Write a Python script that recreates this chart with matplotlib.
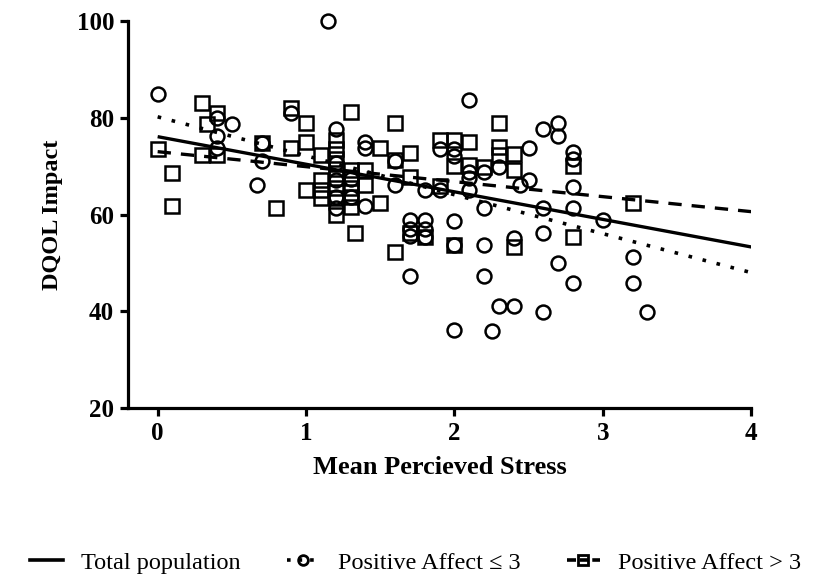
import numpy as np
import matplotlib.pyplot as plt
from matplotlib.lines import Line2D

plt.rcParams['font.family'] = ['Liberation Serif', 'DejaVu Serif']

# Positive Affect <= 3 (open circles)
low_x = [0, 1.15, 0.4, 0.4, 0.4, 0.5, 0.7, 0.7, 0.67, 0.9, 1.2, 1.2, 1.2, 1.2, 1.2,
         1.3, 1.3, 1.4, 1.4, 1.4, 1.6, 1.6, 1.8, 1.9, 1.9, 1.7, 1.7, 1.7, 1.8, 1.8,
         1.8, 1.7, 2.0, 2.0, 2.0, 2.0, 2.0, 2.1, 2.1, 2.1, 2.1, 2.2, 2.2, 2.2, 2.2,
         2.25, 2.3, 2.3, 2.4, 2.4, 2.44, 2.5, 2.5, 2.6, 2.6, 2.6, 2.6, 2.7, 2.7, 2.7,
         2.8, 2.8, 2.8, 2.8, 2.8, 3.0, 3.2, 3.2, 3.3]
low_y = [85, 100, 80, 76.2, 73.8, 78.7, 74.8, 71, 66.1, 81, 77.7, 70.7, 67.1, 63.6, 61.4,
         67.4, 63.6, 75, 73.8, 61.8, 71, 66.1, 65.1, 65.1, 73.5, 58.9, 57, 55.5, 58.9, 57,
         55.3, 47.3, 73.5, 72, 58.7, 53.7, 36.2, 83.7, 68.8, 67.6, 65.1, 68.8, 61.4, 53.7, 47.3,
         36, 69.8, 41.1, 55.2, 41.1, 66.1, 67.2, 73.8, 77.7, 61.4, 56.2, 39.9, 78.9, 76.2, 50,
         72.9, 71.5, 65.7, 61.4, 45.9, 58.9, 51.2, 45.9, 39.9]

# Positive Affect > 3 (open squares)
high_x = [0, 0.1, 0.1, 0.3, 0.33, 0.3, 0.4, 0.4, 0.7, 0.8, 0.9, 0.9, 1.0, 1.0, 1.0,
          1.1, 1.1, 1.1, 1.1, 1.2, 1.2, 1.2, 1.2, 1.2, 1.2, 1.2, 1.2, 1.3, 1.3, 1.3,
          1.3, 1.3, 1.3, 1.33, 1.4, 1.4, 1.5, 1.5, 1.6, 1.6, 1.6, 1.7, 1.7, 1.7, 1.8,
          1.9, 1.9, 2.0, 2.0, 2.0, 2.1, 2.1, 2.2, 2.3, 2.3, 2.3, 2.4, 2.4, 2.4, 2.8,
          2.8, 3.2]
high_y = [73.6, 68.6, 61.8, 83, 78.7, 72.3, 81, 72.3, 74.8, 61.4, 82, 73.8, 79, 75, 65,
          72.3, 67.1, 65, 63.4, 75.4, 73.5, 71.5, 69.5, 67.5, 65.5, 63.5, 60, 81.2, 69.2, 67.5,
          65.5, 63.6, 61.6, 56.2, 69.2, 66.1, 73.8, 62.4, 79, 71.3, 52.3, 72.7, 67.8, 56.2, 55.4,
          75.4, 66, 75.4, 70, 53.7, 75, 70.2, 69.8, 78.9, 74, 72.3, 72.5, 69.2, 53.3, 70,
          55.4, 62.4]

# regression lines: (intercept, slope)
fit_total = (76.1, -5.7)
fit_low = (80.2, -8.05)
fit_high = (73.0, -3.1)

fig = plt.figure(figsize=(8.31, 5.78), dpi=100)
ax = fig.add_axes([0.154, 0.294, 0.75, 0.6696])

mk = dict(linestyle='none', markerfacecolor='none', markeredgecolor='black',
          markeredgewidth=1.8, clip_on=False)
ax.plot(low_x, low_y, marker='o', markersize=10, **mk)
ax.plot(high_x, high_y, marker='s', markersize=9.5, **mk)

xs = np.array([0, 4])
ax.plot(xs, fit_total[0] + fit_total[1] * xs, color='black', lw=2.4, solid_capstyle='butt')
ax.plot(xs, fit_low[0] + fit_low[1] * xs, color='black', lw=2.6, linestyle=(0, (1, 3)))
ax.plot(xs, fit_high[0] + fit_high[1] * xs, color='black', lw=2.4, linestyle=(0, (4, 3)))

ax.set_xlim(-0.2, 4)
ax.set_ylim(20, 100)
ax.set_xticks([0, 1, 2, 3, 4])
ax.set_yticks([20, 40, 60, 80, 100])
for s in ['top', 'right']:
    ax.spines[s].set_visible(False)
for s in ['left', 'bottom']:
    ax.spines[s].set_linewidth(2.3)
ax.tick_params(width=2.3, length=6, labelsize=18, pad=4)
for lbl in ax.get_xticklabels() + ax.get_yticklabels():
    lbl.set_fontweight('bold')

ax.set_xlabel('Mean Percieved Stress', fontsize=19, fontweight='bold', labelpad=8)
ax.set_ylabel('DQOL Impact', fontsize=17.5, fontweight='bold', labelpad=10)

handles = [
    Line2D([], [], color='black', lw=2.6),
    Line2D([], [], color='black', lw=2.6, linestyle=(0, (1, 2.2)), marker='o',
           markerfacecolor='none', markeredgewidth=2, markersize=7),
    Line2D([], [], color='black', lw=2.6, linestyle=(0, (2.5, 1)), marker='s',
           markerfacecolor='none', markeredgewidth=2, markersize=7),
]
labels = ['Total population', 'Positive Affect \u2264 3', 'Positive Affect > 3']
fig.legend(handles, labels, loc='center', bbox_to_anchor=(0.5, 0.026), ncol=3,
           frameon=False, fontsize=17.5, handlelength=1.35, columnspacing=1.9,
           handletextpad=0.75, borderpad=0)

fig.savefig('out.png', dpi=100)
